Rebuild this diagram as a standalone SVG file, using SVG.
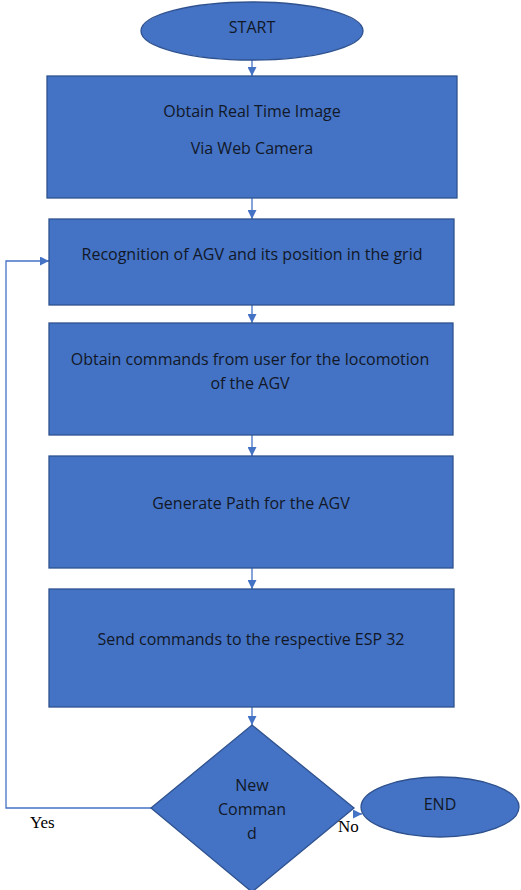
<svg xmlns="http://www.w3.org/2000/svg" width="521" height="890" viewBox="0 0 521 890">
<style>
.shape{fill:#4472C4;stroke:#2F528F;stroke-width:1.3}
.lbl{font-family:"Open Sans","Liberation Sans",Arial,sans-serif;font-size:16px;fill:#111827;text-anchor:middle}
.conn{fill:none;stroke:#4472C4;stroke-width:1.3}
.yn{font-family:"Liberation Serif","Times New Roman",serif;font-size:17px;fill:#000}
</style>
<defs>
<marker id="arr" viewBox="0 0 10 10" refX="10" refY="5" markerWidth="9" markerHeight="9" markerUnits="userSpaceOnUse" orient="auto">
<path d="M0,0 L10,5 L0,10 Z" fill="#4472C4"/>
</marker>
</defs>
<rect width="521" height="890" fill="#fff"/>
<g id="connectors">
<line class="conn" x1="252" y1="60" x2="252" y2="76" marker-end="url(#arr)"/>
<line class="conn" x1="252" y1="198" x2="252" y2="219" marker-end="url(#arr)"/>
<line class="conn" x1="252" y1="305" x2="252" y2="323" marker-end="url(#arr)"/>
<line class="conn" x1="252" y1="435" x2="252" y2="456" marker-end="url(#arr)"/>
<line class="conn" x1="252" y1="568" x2="252" y2="589" marker-end="url(#arr)"/>
<line class="conn" x1="252" y1="707" x2="252" y2="725" marker-end="url(#arr)"/>
<polyline class="conn" points="151,808 6,808 6,261 49,261" marker-end="url(#arr)"/>
<line class="conn" x1="353" y1="814" x2="362" y2="814" marker-end="url(#arr)"/>
</g>
<g id="start">
<ellipse class="shape" cx="252" cy="31" rx="111" ry="29"/>
<text class="lbl" x="252" y="33">START</text>
</g>
<g id="obtain-image">
<rect class="shape" x="47" y="76" width="410" height="122"/>
<text class="lbl" x="252" y="117">Obtain Real Time Image</text>
<text class="lbl" x="252" y="154">Via Web Camera</text>
</g>
<g id="recognition">
<rect class="shape" x="49" y="219" width="405" height="86"/>
<text class="lbl" x="252" y="260">Recognition of AGV and its position in the grid</text>
</g>
<g id="obtain-commands">
<rect class="shape" x="49" y="323" width="404" height="112"/>
<text class="lbl" x="250" y="365">Obtain commands from user for the locomotion</text>
<text class="lbl" x="250" y="389">of the AGV</text>
</g>
<g id="generate-path">
<rect class="shape" x="49" y="456" width="404" height="112"/>
<text class="lbl" x="251" y="509">Generate Path for the AGV</text>
</g>
<g id="send-commands">
<rect class="shape" x="49" y="589" width="405" height="118"/>
<text class="lbl" x="251" y="645">Send commands to the respective ESP 32</text>
</g>
<g id="decision">
<polygon class="shape" points="252,725 354,808 252,892 151,808"/>
<text class="lbl" x="252" y="791">New</text>
<text class="lbl" x="252" y="815">Comman</text>
<text class="lbl" x="252" y="839">d</text>
</g>
<g id="end">
<ellipse class="shape" cx="440" cy="807" rx="79" ry="30"/>
<text class="lbl" x="440" y="810">END</text>
</g>
<text class="yn" x="30" y="828">Yes</text>
<text class="yn" x="338" y="832">No</text>
</svg>
